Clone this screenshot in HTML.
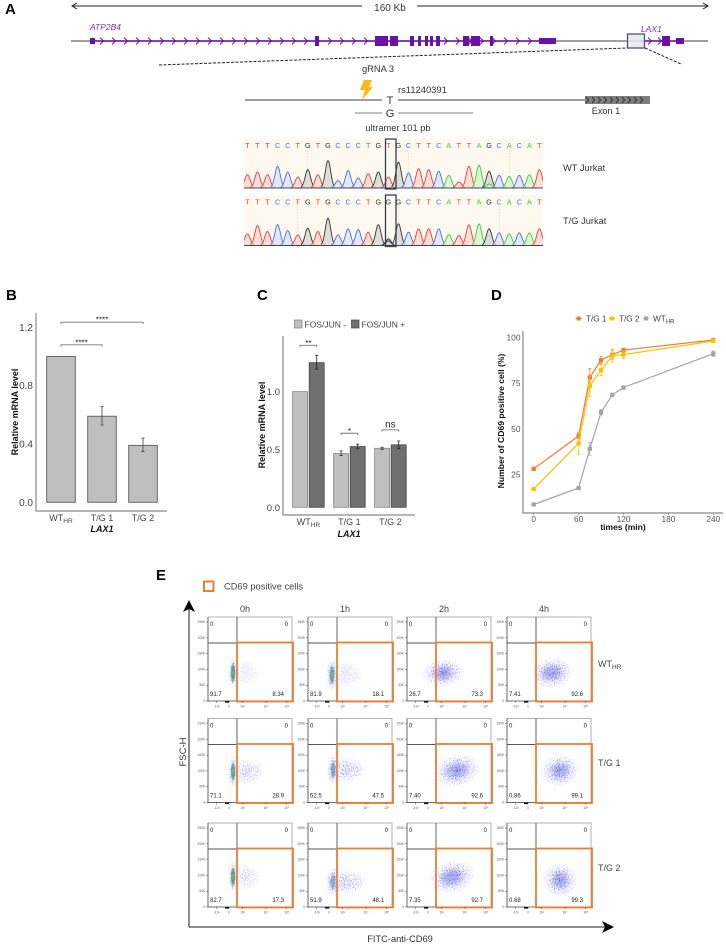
<!DOCTYPE html>
<html lang="en">
<head>
<meta charset="utf-8">
<title>LAX1 rs11240391 figure</title>
<style>
html,body{margin:0;padding:0;background:#fff;}
svg{display:block;font-family:"Liberation Sans",sans-serif;}
text{fill:#333;}
.pl{font-size:15px;font-weight:bold;fill:#000;}
.tick{font-size:9px;fill:#444;}
.ax{font-size:9px;font-weight:bold;fill:#111;}
</style>
</head>
<body>
<svg id="fig" xmlns="http://www.w3.org/2000/svg" width="726" height="944" viewBox="0 0 726 944">
<defs>
<filter id="speckle" x="-20%" y="-20%" width="140%" height="140%">
<feTurbulence type="fractalNoise" baseFrequency="0.95" numOctaves="2" seed="4" result="n"/>
<feColorMatrix in="n" type="matrix" values="0 0 0 0 0 0 0 0 0 0 0 0 0 0 0 7 0 0 0 -3.6" result="m"/>
<feComposite in="SourceGraphic" in2="m" operator="in"/>
</filter>
<radialGradient id="cloudGrad"><stop offset="0" stop-color="#4040dc" stop-opacity=".95"/><stop offset=".6" stop-color="#5a5ae6" stop-opacity=".6"/><stop offset="1" stop-color="#8080f0" stop-opacity="0"/></radialGradient>
<radialGradient id="coreGrad"><stop offset="0" stop-color="#e8c020" stop-opacity=".95"/><stop offset=".4" stop-color="#30a860" stop-opacity=".9"/><stop offset="1" stop-color="#3060c0" stop-opacity="0"/></radialGradient>
<clipPath id="chromClip"><rect x="244" y="130" width="299" height="120"/></clipPath>
</defs>
<rect width="726" height="944" fill="#fff"/>

<!-- Panel letters -->
<text class="pl" x="5" y="14">A</text>
<text class="pl" x="6" y="300">B</text>
<text class="pl" x="257" y="300">C</text>
<text class="pl" x="491" y="300">D</text>
<text class="pl" x="156" y="580">E</text>

<!-- Panel A: locus -->
<g id="locus">
<g stroke="#222" stroke-width="1" fill="none">
<line x1="72" y1="6" x2="362" y2="6"/><line x1="417" y1="6" x2="707" y2="6"/>
<path d="M77 3 L72 6 L77 9"/><path d="M703 3 L708 6 L703 9"/>
</g>
<text x="390" y="11" text-anchor="middle" style="font-size:10px">160 Kb</text>
<line x1="71" y1="41" x2="708" y2="41" stroke="#666" stroke-width="1.2"/>
<text x="90" y="30" style="font-size:8.5px;font-style:italic;fill:#7b2fb5">ATP2B4</text>
<text x="641" y="32" style="font-size:8.5px;font-style:italic;fill:#7b2fb5">LAX1</text>
<line x1="90" y1="41" x2="556" y2="41" stroke="#6a11a8" stroke-width="1.6"/>
<line x1="640" y1="41" x2="684" y2="41" stroke="#6a11a8" stroke-width="1.6"/>
<g id="exons" fill="#6a11a8"></g>
<rect x="627.5" y="34" width="17" height="14" fill="#e8e8ee" fill-opacity=".85" stroke="#445578" stroke-width="1.3"/>
<path d="M159 65 L627 48" stroke="#222" stroke-width="1" stroke-dasharray="3 1.5" fill="none"/>
<path d="M645 48 L681 64" stroke="#222" stroke-width="1" stroke-dasharray="3 1.5" fill="none"/>
<text x="378" y="72" text-anchor="middle" style="font-size:9.3px">gRNA 3</text>
<path d="M364 80 L372 80 L369 87 L373 87 L362 100 L365 90 L360 90 Z" fill="#fdb813"/>
<text x="398" y="93" style="font-size:9.4px">rs11240391</text>
<line x1="245" y1="100" x2="382" y2="100" stroke="#666" stroke-width="1.3"/>
<text x="390" y="104" text-anchor="middle" style="font-size:11px">T</text>
<line x1="398" y1="100" x2="586" y2="100" stroke="#666" stroke-width="1.3"/>
<rect x="585" y="96" width="65" height="8" fill="#7f7f7f"/>
<g id="exonChevrons" stroke="#222" stroke-width=".9" fill="none"></g>
<text x="606" y="114" text-anchor="middle" style="font-size:9.2px">Exon 1</text>
<line x1="355" y1="113" x2="382" y2="113" stroke="#b0aaaa" stroke-width="1.5"/>
<text x="390" y="117" text-anchor="middle" style="font-size:11px">G</text>
<line x1="398" y1="113" x2="473" y2="113" stroke="#b0aaaa" stroke-width="1.5"/>
<text x="398" y="131" text-anchor="middle" style="font-size:9.3px">ultramer 101 pb</text>
<text x="563" y="171" style="font-size:9.3px">WT Jurkat</text>
<text x="563" y="224" style="font-size:9.3px">T/G Jurkat</text>
</g>
<g id="chromato"></g>

<!-- Panel B -->
<g id="chartB">
<text class="ax" transform="translate(18,412) rotate(-90)" text-anchor="middle">Relative mRNA level</text>
<text class="ax" x="102" y="532" text-anchor="middle" style="font-style:italic">LAX1</text>
</g>

<!-- Panel C -->
<g id="chartC">
<text class="ax" transform="translate(265,425) rotate(-90)" text-anchor="middle">Relative mRNA level</text>
<text class="ax" x="349" y="537" text-anchor="middle" style="font-style:italic">LAX1</text>
<rect x="294.5" y="320" width="7.5" height="8" fill="#bfbfbf" stroke="#777" stroke-width=".7"/>
<text x="304.5" y="327.5" style="font-size:8.5px;fill:#444">FOS/JUN -</text>
<rect x="351.5" y="320" width="7.5" height="8" fill="#6f6f6f" stroke="#444" stroke-width=".7"/>
<text x="361.5" y="327.5" style="font-size:8.5px;fill:#444">FOS/JUN +</text>
</g>

<!-- Panel D -->
<g id="chartD">
<text class="ax" transform="translate(504,421) rotate(-90)" text-anchor="middle" style="font-size:8.6px">Number of CD69 positive cell (%)</text>
<text class="ax" x="623" y="530" text-anchor="middle" style="font-size:8.5px">times (min)</text>
</g>

<!-- Panel E -->
<g id="flow">
<rect x="204" y="581.5" width="9.5" height="9.5" fill="#fff" stroke="#ed7d31" stroke-width="2"/>
<text x="224" y="589.5" style="font-size:9.3px;fill:#444">CD69 positive cells</text>
<path d="M189 927 L189 606" stroke="#666" stroke-width="1.5" fill="none"/>
<path d="M189 927 L606 927" stroke="#666" stroke-width="1.5" fill="none"/>
<path d="M183 612 L189 600 L195 612 L189 609 Z" fill="#000"/>
<path d="M602 921 L614 927 L602 933 L605 927 Z" fill="#000"/>
<text transform="translate(186,752) rotate(-90)" text-anchor="middle" style="font-size:9.5px">FSC-H</text>
<text x="400" y="942" text-anchor="middle" style="font-size:9.3px">FITC-anti-CD69</text>
</g>

<script>
// ---------- Panel A data ----------
const atpExonStart = [90, 315, 375, 390, 410, 418, 425, 430, 436, 463, 471, 490, 539];
const atpExonWidth = [5, 4, 13, 8, 4, 3, 3, 3, 4, 6, 9, 3, 17];
const atpExonHeight = [6, 10, 10, 10, 10, 10, 10, 10, 10, 10, 10, 10, 6];
const laxExonStart = [662, 676];
const laxExonWidth = [8, 8];
const laxExonHeight = [10, 6];
const chromBases1 = "TTTCCTGTGCCCTGTGCTTCATTAGCACAT".split("");
const chromBases2 = "TTTCCTGTGCCCTGGGCTTCATTAGCACAT".split("");
const chromPeaks1 = [40,48,40,65,48,33,55,40,82,22,52,30,43,48,33,78,45,58,55,50,38,18,65,68,50,38,35,38,40,55];
const chromPeaks2 = [35,60,42,63,45,32,52,42,82,32,50,48,40,62,20,65,40,50,50,50,33,30,62,65,50,38,35,38,38,50];
const chromMinorBase = ["A", "G"];
const chromMinorIndex = [24, 14];
const chromMinorPeak = [12, 14];

// ---------- Panel B data ----------
const bCategories = ["WT", "T/G 1", "T/G 2"];
const bValues = [1, 0.59, 0.39];
const bErrLow = [1, 0.53, 0.348];
const bErrHigh = [1, 0.656, 0.44];
const bTicks = [0, 0.4, 0.8, 1.2];
const bTickLabels = ["0.0", "0.4", "0.8", "1.2"];
const bBracketTo = [1, 2];
const bBracketLevel = [1.08, 1.235];
const bBracketText = ["****", "****"];

// ---------- Panel C data ----------
const cCategories = ["WT", "T/G 1", "T/G 2"];
const cMinus = [1, 0.465, 0.51];
const cPlus = [1.25, 0.525, 0.54];
const cMinusLow = [1, 0.447, 0.501];
const cMinusHigh = [1, 0.487, 0.519];
const cPlusLow = [1.195, 0.51, 0.51];
const cPlusHigh = [1.314, 0.545, 0.573];
const cTicks = [0, 0.5, 1];
const cTickLabels = ["0.0", "0.5", "1.0"];
const cBracketLevel = [1.40, 0.64, 0.67];
const cBracketText = ["**", "*", "ns"];

// ---------- Panel D data ----------
const dTimes = [0, 60, 75, 90, 105, 120, 240];
const dTg1 = [28, 46, 78, 87.5, 90.5, 93, 98.5];
const dTg1Err = [1, 1.5, 5, 2, 2.5, 1, 0.8];
const dTg2 = [17, 42, 73.5, 82, 90, 90.5, 98];
const dTg2Err = [0.8, 6, 6, 3, 3.5, 2, 0.8];
const dWt = [8.5, 17.5, 39, 59, 68.5, 72.5, 91];
const dWtErr = [0.5, 0.8, 3.5, 1.5, 0.8, 0.8, 1.5];
const dXTicks = [0, 60, 120, 180, 240];
const dYTicks = [25, 50, 75, 100];
const dSeriesNames = ["T/G 1", "T/G 2", "WT"];

// ---------- Panel E data ----------
const flowTimes = ["0h", "1h", "2h", "4h"];
const flowRowNames = ["WT", "T/G 1", "T/G 2"];
const flowNeg = [["91.7","81.9","26.7","7.41"],["71.1","52.5","7.40","0.86"],["82.7","51.9","7.35","0.68"]];
const flowPos = [["8.34","18.1","73.3","92.6"],["28.9","47.5","92.6","99.1"],["17.3","48.1","92.7","99.3"]];
const flowYTickLabels = ["250K","200K","150K","100K","50K","0"];
const flowXTickLabels = ["-10³","0","10³","10⁴","10⁵"];
const flowYTickVals = [250, 200, 150, 100, 50, 0];
const flowXTickVals = [-1000, 0, 1000, 10000, 100000];
const cloudFitc = [[25,24,36,45],[25,25,50,53],[25,25,45,53]];
const cloudFsc = [[89,82,89,89],[98,104,101,101],[95,79,95,85]];
const cloudSpreadX = [[5,6,22,22],[5,6,24,20],[5,7,24,18]];
const cloudSpreadY = [[17,17,15,16],[17,16,17,17],[17,15,17,18]];
const cloudTilt = [[0,0,-5,-8],[0,0,-15,-12],[0,0,-15,-30]];
const haloFitc = [[38,38,0,0],[40,38,0,0],[38,38,0,0]];
const haloSpreadX = [[14,17,0,0],[17,20,0,0],[15,22,0,0]];
const haloStrength = [[.35,.45,0,0],[.65,.85,0,0],[.5,.85,0,0]];
const coreStrength = [[1,.8,0,0],[.9,.5,0,0],[1,.3,0,0]];

const NS = "http://www.w3.org/2000/svg";
function mk(parent, tag, attrs, txt) {
  const e = document.createElementNS(NS, tag);
  for (const k in attrs) e.setAttribute(k, attrs[k]);
  if (txt !== undefined) e.textContent = txt;
  parent.appendChild(e);
  return e;
}
function sub(parent, attrs, base, subText, subSize) {
  const t = mk(parent, "text", attrs);
  t.appendChild(document.createTextNode(base));
  const s = document.createElementNS(NS, "tspan");
  s.setAttribute("dy", "2");
  s.setAttribute("style", "font-size:" + subSize + "px");
  s.textContent = subText;
  t.appendChild(s);
  return t;
}

// ---------- Locus ----------
(function () {
  const ex = document.getElementById("exons");
  atpExonStart.forEach((x, i) => {
    const r = mk(ex, "rect", {x: x, y: 41 - atpExonHeight[i] / 2, width: atpExonWidth[i], height: atpExonHeight[i]});
    
    
  });
  laxExonStart.forEach((x, i) => {
    const r = mk(ex, "rect", {x: x, y: 41 - laxExonHeight[i] / 2, width: laxExonWidth[i], height: laxExonHeight[i]});
    
    
  });
  for (let x = 100; x < 372; x += 12) {
    const c = mk(ex, "path", {d: `M${x} 37.5 L${x + 3.5} 41 L${x} 44.5`, fill: "none", stroke: "#6a11a8", "stroke-width": 1});
    
    
  }
  for (let x = 444; x < 540; x += 12) {
    const c = mk(ex, "path", {d: `M${x} 37.5 L${x + 3.5} 41 L${x} 44.5`, fill: "none", stroke: "#6a11a8", "stroke-width": 1});
    
    
  }
  [648, 658].forEach(x => {
    const c = mk(ex, "path", {d: `M${x} 37.5 L${x + 3.5} 41 L${x} 44.5`, fill: "none", stroke: "#6a11a8", "stroke-width": 1});
    
    
  });
  const ec = document.getElementById("exonChevrons");
  for (let x = 586; x < 646; x += 6) {
    const c = mk(ec, "path", {d: `M${x} 97 L${x + 2.5} 100 L${x} 103`});
    
    
  }
})();

// ---------- Chromatograms ----------
(function () {
  const g = document.getElementById("chromato");
  const colors = {T: "#e8403c", C: "#4a6fe0", G: "#333333", A: "#3ccb3c"};
  const fills = {T: "#f9d6cf", C: "#dde2f6", G: "#d8d6d0", A: "#d8f2d5"};
  const tops = [139, 195], bases = [188, 245.5], ltrY = [148, 204.5];
  const sets = [[chromBases1, chromPeaks1], [chromBases2, chromPeaks2]];
  const guides = [[6, 16, 26], [5, 15, 25]];
  const xs = i => 247.4 + i * 10.07;
  sets.forEach((s, p) => {
    const bg = mk(g, "rect", {x: 244, y: tops[p], width: 299, height: bases[p] - tops[p], fill: "#fdf9ef"});
    
    
    const y = v => bases[p] - v / 3;
    guides[p].forEach(i => {
      const l = mk(g, "line", {x1: xs(i), x2: xs(i), y1: tops[p] + 11, y2: bases[p] - 14, stroke: "#ccc", "stroke-width": .6, "stroke-dasharray": "1.5 1.5"});
      
      
    });
    const peakGroup = mk(g, "g", {"clip-path": "url(#chromClip)"});
    
    
    const peak = (i, h, b) => {
      let d = "";
      for (let t = -7; t <= 7; t += 0.5) {
        const v = h * Math.exp(-t * t / (2 * 2.7 * 2.7));
        d += (t === -7 ? "M" : "L") + (xs(i) + t).toFixed(1) + " " + y(v).toFixed(1) + " ";
      }
      const pe = mk(peakGroup, "path", {d: d, fill: fills[b], "fill-opacity": .8, stroke: colors[b], "stroke-width": .9});
      
      
    };
    s[0].forEach((b, i) => peak(i, s[1][i], b));
    peak(chromMinorIndex[p], chromMinorPeak[p], chromMinorBase[p]);
    const ax = mk(g, "line", {x1: 244, x2: 543, y1: bases[p], y2: bases[p], stroke: "#444", "stroke-width": .9});
    
    
    s[0].forEach((b, i) => {
      const t = mk(g, "text", {x: xs(i), y: ltrY[p], "text-anchor": "middle", style: "font-size:7.2px;fill:" + colors[b]}, b);
      
      
    });
    const box = mk(g, "rect", {x: 385.5, y: tops[p], width: 10.5, height: bases[p] - tops[p] + 1, fill: "none", stroke: "#2f3f60", "stroke-width": 1.3});
    
    
  });
})();

// ---------- Shared bits ----------
function axes(g, x0, yTop, yBot, xRight, prefix) {
  const a = mk(g, "path", {d: `M${x0} ${yTop} L${x0} ${yBot} L${xRight} ${yBot}`, fill: "none", stroke: "#8a8a8a", "stroke-width": 1.2});
  
  
}
function bracket(g, x1, x2, y, label, size, dy, name) {
  const p = mk(g, "path", {d: `M${x1} ${y + 1.8} L${x1} ${y} L${x2} ${y} L${x2} ${y + 1.8}`, fill: "none", stroke: "#777", "stroke-width": .9});
  
  
  const t = mk(g, "text", {x: (x1 + x2) / 2, y: y + dy, "text-anchor": "middle", style: `font-size:${size}px;fill:#222`}, label);
  
  
}
function errBar(g, x, yLo, yHi, color, name) {
  const e = mk(g, "path", {d: `M${x - 1.6} ${yHi} L${x + 1.6} ${yHi} M${x} ${yHi} L${x} ${yLo} M${x - 1.6} ${yLo} L${x + 1.6} ${yLo}`, fill: "none", stroke: color, "stroke-width": .8});
  
  
}

// ---------- Chart B ----------
(function () {
  const g = document.getElementById("chartB");
  const y = v => 502.3 - 145.8 * v;
  const x = i => 61 + 41 * i;
  const w = 28.6;
  bValues.forEach((v, i) => {
    const r = mk(g, "rect", {x: x(i) - w / 2, y: y(v), width: w, height: y(0) - y(v), fill: "#bfbfbf", stroke: "#666", "stroke-width": 1});
    
    
    if (bErrHigh[i] !== bErrLow[i]) errBar(g, x(i), y(bErrLow[i]), y(bErrHigh[i]), "#444", "error-bar-b");
  });
  axes(g, 36, 313, 511, 167, "b");
  bTicks.forEach((v, i) => {
    const t = mk(g, "text", {class: "tick", x: 33, y: y(v) + 3.5, "text-anchor": "end", style: "font-size:10px"}, bTickLabels[i]);
    
    
  });
  bCategories.forEach((c, i) => {
    const attrs = {class: "tick", x: x(i), y: 521, "text-anchor": "middle"};
    const t = i === 0 ? sub(g, attrs, c, "HR", 6.5) : mk(g, "text", attrs, c);
    
    
  });
  bBracketTo.forEach((to, i) => bracket(g, x(0), x(to), y(bBracketLevel[i]), bBracketText[i], 8, 0.5, "b-comparison"));
})();

// ---------- Chart C ----------
(function () {
  const g = document.getElementById("chartC");
  const y = v => 507.3 - 115.7 * v;
  const x = i => 308.4 + 41 * i;
  const w = 15, off = 8.3;
  cCategories.forEach((c, i) => {
    const r1 = mk(g, "rect", {x: x(i) - off - w / 2, y: y(cMinus[i]), width: w, height: y(0) - y(cMinus[i]), fill: "#bfbfbf", stroke: "#888", "stroke-width": .8});
    
    
    const r2 = mk(g, "rect", {x: x(i) + off - w / 2, y: y(cPlus[i]), width: w, height: y(0) - y(cPlus[i]), fill: "#6f6f6f", stroke: "#444", "stroke-width": .8});
    
    
    if (cMinusHigh[i] !== cMinusLow[i]) errBar(g, x(i) - off, y(cMinusLow[i]), y(cMinusHigh[i]), "#333", "error-bar-c");
    errBar(g, x(i) + off, y(cPlusLow[i]), y(cPlusHigh[i]), "#222", "error-bar-c");
    const attrs = {class: "tick", x: x(i), y: 525, "text-anchor": "middle"};
    const t = i === 0 ? sub(g, attrs, c, "HR", 6.5) : mk(g, "text", attrs, c);
    
    
    const ns = cBracketText[i] === "ns";
    bracket(g, x(i) - off, x(i) + off, y(cBracketLevel[i]), cBracketText[i], ns ? 10 : 8, ns ? -2.5 : 0.5, "c-comparison");
  });
  axes(g, 283, 336, 515, 415, "c");
  cTicks.forEach((v, i) => {
    const t = mk(g, "text", {class: "tick", x: 280, y: y(v) + 3.5, "text-anchor": "end", style: "font-size:9.5px"}, cTickLabels[i]);
    
    
  });
})();

// ---------- Chart D ----------
(function () {
  const g = document.getElementById("chartD");
  const x = t => 533.7 + (t / 240) * 179.6;
  const y = v => 337.3 + (100 - v) * 1.827;
  axes(g, 523, 331, 513, 723, "d");
  dXTicks.forEach(t => {
    const l = mk(g, "text", {class: "tick", x: x(t), y: 522, "text-anchor": "middle", style: "font-size:8.3px;fill:#555"}, String(t));
    
    
    const m = mk(g, "line", {x1: x(t), x2: x(t), y1: 513, y2: 515, stroke: "#888", "stroke-width": .8});
    
    
  });
  dYTicks.forEach(v => {
    const l = mk(g, "text", {class: "tick", x: 520.5, y: y(v) + 3.2, "text-anchor": "end", style: "font-size:8.4px;fill:#555"}, String(v));
    
    
  });
  const vals = [dWt, dTg1, dTg2], errs = [dWtErr, dTg1Err, dTg2Err], cols = ["#a5a5a5", "#ed7d31", "#ffc000"], nm = ["wt", "tg1", "tg2"];
  vals.forEach((vs, s) => {
    const pts = vs.map((v, i) => x(dTimes[i]).toFixed(1) + "," + y(v).toFixed(1)).join(" ");
    const l = mk(g, "polyline", {points: pts, fill: "none", stroke: cols[s], "stroke-width": 1.2});
    
    
    vs.forEach((v, i) => {
      errBar(g, x(dTimes[i]), y(v - errs[s][i]), y(v + errs[s][i]), cols[s], "error-bar-d");
      const pt = mk(g, "rect", {x: x(dTimes[i]) - 2.2, y: y(v) - 2.2, width: 4.4, height: 4.4, rx: .8, fill: cols[s]});
      
      
    });
  });
  const lx = [578.7, 612, 646], tx = [586, 619, 653], lc = ["#ed7d31", "#ffc000", "#a5a5a5"];
  dSeriesNames.forEach((n, i) => {
    const d = mk(g, "line", {x1: lx[i] - 3, x2: lx[i] + 3, y1: 318.5, y2: 318.5, stroke: lc[i], "stroke-width": 1});
    
    
    const m = mk(g, "rect", {x: lx[i] - 2, y: 316.5, width: 4, height: 4, fill: lc[i]});
    
    
    const attrs = {x: tx[i], y: 321.5, style: "font-size:8.2px;fill:#444"};
    const t = n === "WT" ? sub(g, attrs, n, "HR", 6) : mk(g, "text", attrs, n);
    
    
  });
})();

// ---------- Flow plots ----------
(function () {
  const g = document.getElementById("flow");
  const colX = [208, 308, 407, 507], rowY = [617, 718.5, 823];
  const W = 84, H = 84, div = 29;
  const fscY = v => H - v / 250 * 79;
  const xTickPos = [8.7, 21, 34.7, 58, 78.7];
  flowTimes.forEach((t, c) => {
    const l = mk(g, "text", {x: colX[c] + 37, y: 612, "text-anchor": "middle", style: "font-size:9px;fill:#444"}, t);
    
    
  });
  const rowLabY = [667, 766, 871];
  flowRowNames.forEach((n, r) => {
    const attrs = {x: 598, y: rowLabY[r], style: "font-size:9px;fill:#444"};
    const l = n === "WT" ? sub(g, attrs, n, "HR", 6.5) : mk(g, "text", attrs, n);
    
    
  });
  rowY.forEach((y0, r) => {
    colX.forEach((x0, c) => {
      const p = mk(g, "g", {transform: `translate(${x0},${y0})`});
      
      
      const b = mk(p, "rect", {x: 0, y: 0, width: W, height: H, fill: "#fff", stroke: "#a8a8a8", "stroke-width": .9});
      
      
      const ax = mk(p, "path", {d: `M0 0 L0 ${H} L${W} ${H}`, fill: "none", stroke: "#555", "stroke-width": .8});
      
      

      const cg = mk(p, "g", {filter: "url(#speckle)"});
      
      
      const cy = fscY(cloudFsc[r][c]);
      const rot = `rotate(${cloudTilt[r][c]} ${cloudFitc[r][c]} ${cy})`;
      if (haloSpreadX[r][c] > 0) {
        const h = mk(cg, "ellipse", {cx: haloFitc[r][c], cy: cy, rx: haloSpreadX[r][c], ry: cloudSpreadY[r][c] * .8, fill: "url(#cloudGrad)", opacity: haloStrength[r][c]});
        
        
      }
      const e = mk(cg, "ellipse", {cx: cloudFitc[r][c], cy: cy, rx: cloudSpreadX[r][c], ry: cloudSpreadY[r][c], fill: "url(#cloudGrad)", transform: rot});
      
      
      const e2 = mk(p, "ellipse", {cx: cloudFitc[r][c], cy: cy, rx: cloudSpreadX[r][c] * .6, ry: cloudSpreadY[r][c] * .6, fill: "url(#cloudGrad)", opacity: .45, transform: rot});
      
      
      if (coreStrength[r][c] > 0) {
        const k = mk(p, "ellipse", {cx: cloudFitc[r][c], cy: cy, rx: 2.6, ry: 11, fill: "url(#coreGrad)", opacity: coreStrength[r][c]});
        
        
      }
      const v = mk(p, "line", {x1: div, x2: div, y1: 0, y2: 26, stroke: "#555", "stroke-width": .9});
      
      
      const hz = mk(p, "line", {x1: 0, x2: div, y1: 26, y2: 26, stroke: "#555", "stroke-width": .9});
      
      
      const gate = mk(p, "rect", {x: div, y: 25.5, width: W - div + 1, height: H - 25, fill: "none", stroke: "#ed7d31", "stroke-width": 1.8});
      
      

      const lab = (tx, ty, s, nm, anchor) => {
        const te = mk(p, "text", {x: tx, y: ty, "text-anchor": anchor, style: "font-size:6px;fill:#222"}, s);
        
        
      };
      lab(2, 9, "0", "q1-value", "start");
      lab(80, 9, "0", "q2-value", "end");
      lab(2, 79, flowNeg[r][c], "q3-value", "start");
      lab(76, 79, flowPos[r][c], "q4-value", "end");

      flowYTickVals.forEach((val, i) => {
        const ty = fscY(val);
        const tk = mk(p, "line", {x1: -2, x2: 0, y1: ty, y2: ty, stroke: "#444", "stroke-width": .5});
        
        
        const tl = mk(p, "text", {x: -3, y: ty + 1, "text-anchor": "end", style: "font-size:3.2px;fill:#555"}, flowYTickLabels[i]);
        
        
      });
      flowXTickVals.forEach((val, i) => {
        const tx = xTickPos[i];
        const tk = mk(p, "line", {x1: tx, x2: tx, y1: H, y2: H + 2, stroke: "#444", "stroke-width": .5});
        
        
        const tl = mk(p, "text", {x: tx, y: H + 6.5, "text-anchor": "middle", style: "font-size:3.2px;fill:#555"}, flowXTickLabels[i]);
        
        
      });
      const blob = mk(p, "rect", {x: 17, y: H, width: 4, height: 1.6, fill: "#111"});
      
      
    });
  });
})();
</script>
</svg>
</body>
</html>
